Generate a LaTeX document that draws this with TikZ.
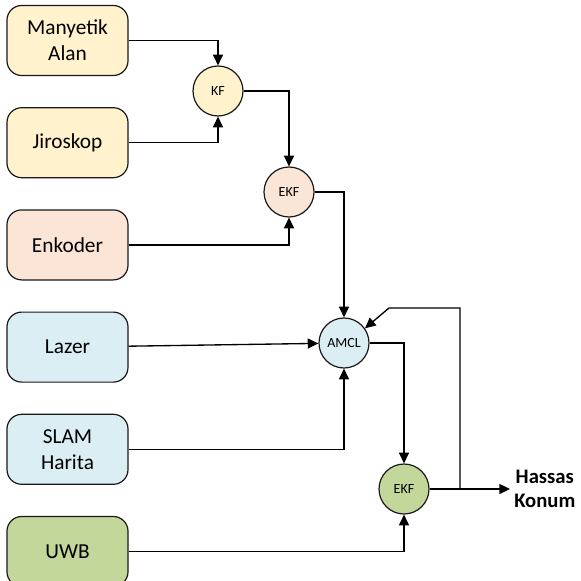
\documentclass[tikz,border=0pt]{standalone}
\usepackage{fontspec}
\setmainfont{Carlito}
\usepackage{xcolor}
\usetikzlibrary{arrows.meta, positioning}

\definecolor{sensY}{HTML}{FFF2CC}
\definecolor{sensO}{HTML}{FBE5D6}
\definecolor{sensB}{HTML}{DAEEF3}
\definecolor{sensG}{HTML}{C4D79B}

\begin{document}
\begin{tikzpicture}[
  x=0.75pt, y=-0.75pt,
  box/.style={draw=black!90, line width=0.9pt, rounded corners=11pt, align=center,
              font=\fontsize{16}{19.5}\selectfont, minimum width=90.75pt,
              minimum height=52.5pt, inner sep=2pt},
  filt/.style={draw=black!90, line width=0.9pt, circle, minimum size=37.5pt,
               inner sep=0pt, font=\fontsize{10.5}{12}\selectfont},
  arr/.style={-{Triangle[length=8pt, width=7.5pt]}, line width=1pt, black},
]
  \useasboundingbox (0,0) rectangle (581,581);

  \node[box, fill=sensY] at (67.5,40.5) (man) {Manyetik\\Alan};
  \node[box, fill=sensY, below=23.25pt of man] (jir) {Jiroskop};
  \node[box, fill=sensO, below=23.25pt of jir] (enk) {Enkoder};
  \node[box, fill=sensB, below=23.25pt of enk] (laz) {Lazer};
  \node[box, fill=sensB, below=23.25pt of laz] (slam) {SLAM\\Harita};
  \node[box, fill=sensG, below=23.25pt of slam] (uwb) {UWB};

  \node[filt, fill=sensY] at (218,91)  (kf)   {KF};
  \node[filt, fill=sensO] at (289,192) (ekfa) {EKF};
  \node[filt, fill=sensB] at (344,343) (amcl) {AMCL};
  \node[filt, fill=sensG] at (404,489) (ekfb) {EKF};

  \node[anchor=west, inner sep=3pt, align=center,
        font=\fontsize{15.5}{17.5}\selectfont\bfseries] at (510,489) (out) {Hassas\\Konum};

  \draw[arr] (man) -| (kf);
  \draw[arr] (jir) -| (kf);
  \draw[arr] (kf) -| (ekfa);
  \draw[arr] (enk) -| (ekfa);
  \draw[arr] (ekfa) -| (amcl);
  \draw[arr] (laz) -- (amcl);
  \draw[arr] (slam) -| (amcl);
  \draw[arr] (amcl) -| (ekfb);
  \draw[arr] (uwb) -| (ekfb);
  \draw[arr] (ekfb) -- (out);

  \coordinate (fb) at (460,489);
  \coordinate (fbtop) at (389,308);
  \draw[arr] (fb) |- (fbtop) -- (amcl.35);
\end{tikzpicture}
\end{document}
